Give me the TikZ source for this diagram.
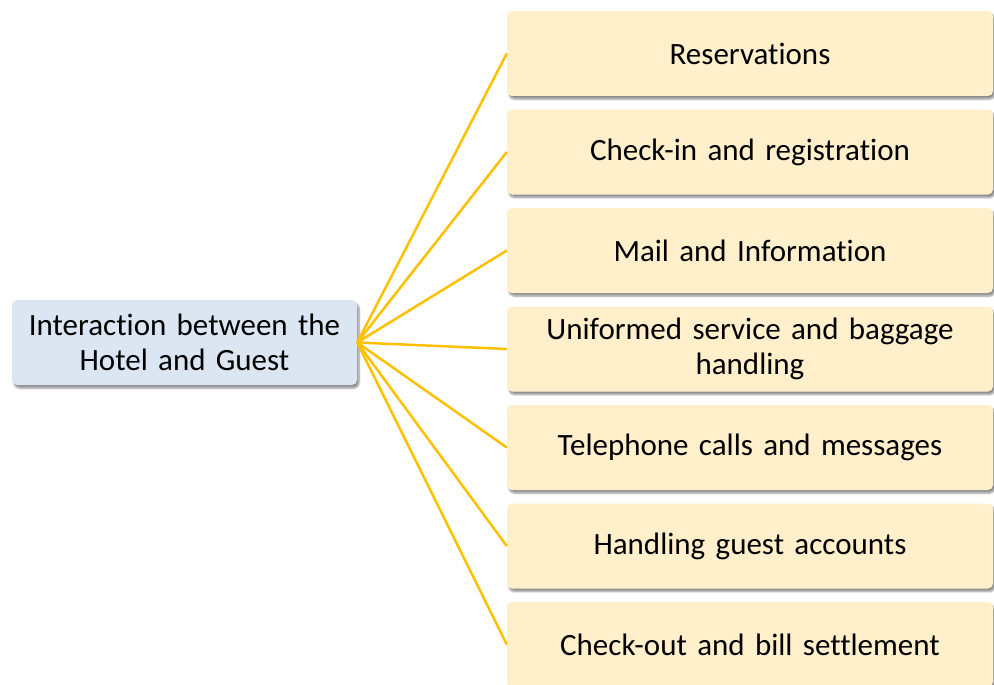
\documentclass[tikz,border=0pt]{standalone}
\usepackage{fontspec}
\setmainfont[Ligatures={NoCommon,NoRare,NoContextual},WordSpace=0.9]{Carlito}
\usetikzlibrary{shadows.blur}
\definecolor{boxyellow}{HTML}{FFEFCB}
\definecolor{boxblue}{HTML}{DCE6F2}
\definecolor{linegold}{HTML}{FFC000}
\tikzset{
  x=1pt, y=-1pt,
  basebox/.style={rounded corners=5pt, minimum height=85pt, align=center, inner sep=0pt,
    font=\fontsize{31}{35}\selectfont,
    blur shadow={shadow xshift=2pt, shadow yshift=-3pt, shadow blur steps=6, shadow opacity=45}},
  itembox/.style={basebox, fill=boxyellow, minimum width=486pt, text width=470pt},
  rootbox/.style={basebox, fill=boxblue, minimum width=345pt, text width=340pt},
  link/.style={draw=linegold, line width=2.5pt}
}
\begin{document}
\begin{tikzpicture}
\useasboundingbox (0,0) rectangle (994,685);
\node[rootbox] (L) at (184.5,342.5) {Interaction between the\\Hotel and Guest};
\node[itembox] (r1) at (750,53.5) {Reservations};
\node[itembox] (r2) at (750,152) {Check-in and registration};
\node[itembox] (r3) at (750,250.5) {Mail and Information};
\node[itembox] (r4) at (750,349) {Uniformed service and baggage\\handling};
\node[itembox] (r5) at (750,447.5) {Telephone calls and messages};
\node[itembox] (r6) at (750,546) {Handling guest accounts};
\node[itembox] (r7) at (750,644.5) {Check-out and bill settlement};
\foreach \i in {1,...,7}{\draw[link] (L.east) -- (r\i.west);}
\end{tikzpicture}
\end{document}
